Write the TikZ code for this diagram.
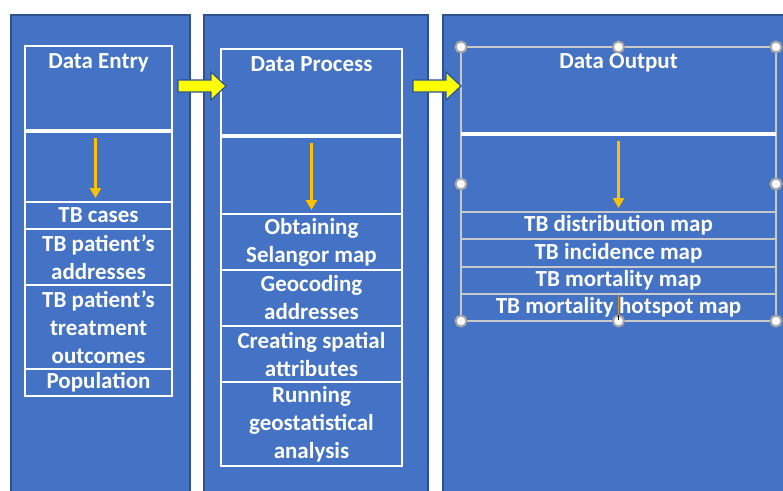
\documentclass[tikz,border=0pt]{standalone}
\usepackage{fontspec}
\setmainfont{Carlito}
\usetikzlibrary{arrows.meta,calc,positioning}
\definecolor{PanelBlue}{HTML}{4472C4}
\definecolor{EdgeBlue}{HTML}{2F528F}
\definecolor{FlowOrange}{HTML}{FFC000}
\definecolor{Yellow}{HTML}{FFFF00}
\definecolor{HandleGrey}{HTML}{A6A6A6}
\definecolor{FrameGrey}{HTML}{C9C9C9}
\definecolor{CursorOrange}{HTML}{C8963E}
\newcommand{\handle}[1]{%
  \draw[fill=white,draw=HandleGrey,line width=2pt] (#1) circle (5.5pt);
}
\newcommand{\blockarrow}[1]{%
  \draw[fill=Yellow,draw=EdgeBlue,line width=1.2pt] ([yshift=6pt]#1) -- ++(33,0) -- ++(0,-8)
    -- ++(15,14) -- ++(-15,14) -- ++(0,-8) -- ++(-33,0) -- cycle;
}
\tikzset{
  panel/.style={fill=PanelBlue,draw=EdgeBlue,line width=1.5pt,anchor=north west,inner sep=0pt},
  cell/.style={draw=white,line width=1.5pt,outer sep=0pt,inner sep=0pt,align=center,
    text=white,font=\fontsize{23}{28}\selectfont\bfseries},
  entrycell/.style={cell,minimum width=147pt},
  processcell/.style={cell,minimum width=181pt},
  outputcell/.style={cell,draw=FrameGrey,minimum width=315pt},
  heading/.style={inner sep=0pt,text=white,font=\fontsize{23}{28}\selectfont\bfseries},
  divider/.style={white,line width=4.5pt},
  flow/.style={FlowOrange,line width=2.5pt,-{Triangle[width=11pt,length=10pt]},
    shorten <=7pt,shorten >=4pt}
}
\begin{document}
\begin{tikzpicture}[x=1pt,y=-1pt]
  \useasboundingbox (0,0) rectangle (783,490);
  % three panels
  \node[panel,minimum width=179pt,minimum height=490pt] (entrypanel) at (10,14) {};
  \node[panel,minimum width=224pt,minimum height=490pt] (processpanel) at (203,14) {};
  \node[panel,minimum width=360pt,minimum height=490pt] (outputpanel) at (442,14) {};

  % data entry
  \node[entrycell,minimum height=85pt,anchor=north] (entryhead) at (98.5,46) {};
  \node[heading,below=7pt of entryhead.north] (entrytitle) {Data Entry};
  \node[entrycell,minimum height=71pt,below=0pt of entryhead] (entrygap) {};
  \node[entrycell,minimum height=27pt,below=0pt of entrygap] (entryone) {TB cases};
  \node[entrycell,minimum height=56pt,below=0pt of entryone] (entrytwo) {TB patient’s\\addresses};
  \node[entrycell,minimum height=84pt,below=0pt of entrytwo] (entrythree) {TB patient’s\\treatment\\outcomes};
  \node[entrycell,minimum height=27pt,below=0pt of entrythree] (entryfour) {Population};
  \draw[divider] (entryhead.south west) -- (entryhead.south east);
  \draw[flow] ([xshift=-3pt]entrygap.north) -- ([xshift=-3pt]entrygap.south);

  % data process
  \node[processcell,minimum height=87pt,anchor=north] (processhead) at (311.5,49) {};
  \node[heading,below=7pt of processhead.north] (processtitle) {Data Process};
  \node[processcell,minimum height=78pt,below=0pt of processhead] (processgap) {};
  \node[processcell,minimum height=56pt,below=0pt of processgap] (processone) {Obtaining\\Selangor map};
  \node[processcell,minimum height=56pt,below=0pt of processone] (processtwo) {Geocoding\\addresses};
  \node[processcell,minimum height=56pt,below=0pt of processtwo] (processthree) {Creating spatial\\attributes};
  \node[processcell,minimum height=84pt,below=0pt of processthree] (processfour) {Running\\geostatistical\\analysis};
  \draw[divider] (processhead.south west) -- (processhead.south east);
  \draw[flow] (processgap.north) -- (processgap.south);

  % data output
  \node[outputcell,minimum height=87pt,anchor=north] (outputhead) at (618.5,47) {};
  \node[heading,below=6pt of outputhead.north] (outputtitle) {Data Output};
  \node[outputcell,minimum height=78pt,below=0pt of outputhead] (outputgap) {};
  \node[outputcell,minimum height=27pt,below=0pt of outputgap] (outputone) {TB distribution map};
  \node[outputcell,minimum height=28pt,below=0pt of outputone] (outputtwo) {TB incidence map};
  \node[outputcell,minimum height=27pt,below=0pt of outputtwo] (outputthree) {TB mortality map};
  \node[outputcell,minimum height=27pt,below=0pt of outputthree] (outputfour) {TB mortality hotspot map};
  \draw[divider] (outputhead.south west) -- (outputhead.south east);
  \draw[flow] (outputgap.north) -- (outputgap.south);

  % selection handles and text cursor
  \coordinate (outputwest) at ($(outputhead.north west)!0.5!(outputfour.south west)$);
  \coordinate (outputeast) at ($(outputhead.north east)!0.5!(outputfour.south east)$);
  \foreach \spot in {outputhead.north west,outputhead.north,outputhead.north east,outputwest,
      outputeast,outputfour.south west,outputfour.south,outputfour.south east}{\handle{\spot}}
  \draw[CursorOrange,line width=1.5pt] ($(outputfour.south)+(0,-26)$) -- ++(0,20);
  \draw[black,line width=1.5pt] ($(outputfour.south)+(0,-6)$) -- ++(0,5);

  % yellow arrows between panels
  \coordinate (entrytoprocess) at (178,86);
  \coordinate (processtooutput) at (413,86);
  \blockarrow{entrytoprocess}
  \blockarrow{processtooutput}
\end{tikzpicture}
\end{document}
